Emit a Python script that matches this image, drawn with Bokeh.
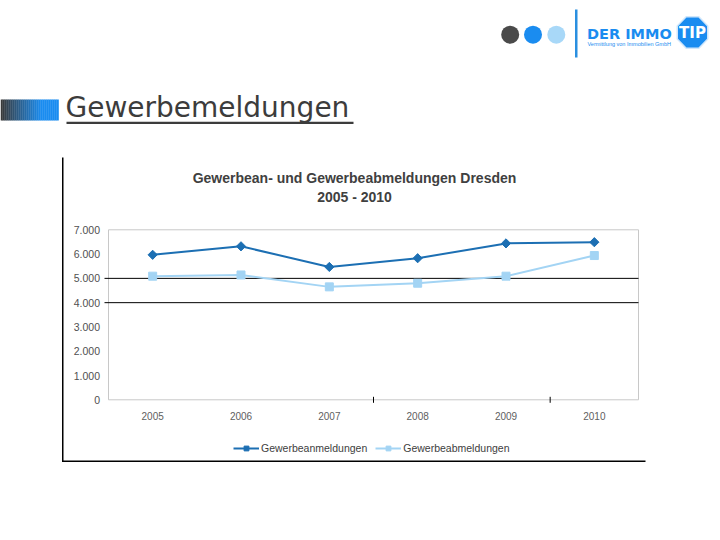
import numpy as np
from bokeh.plotting import figure
from bokeh.models import Range1d, Legend, LegendItem
from bokeh.core.properties import value
from bokeh.embed import file_html
from bokeh.resources import INLINE

# ---------------- data ----------------
years = ["2005", "2006", "2007", "2008", "2009", "2010"]
anmeldungen = [5970, 6320, 5470, 5830, 6440, 6490]
abmeldungen = [5090, 5140, 4650, 4800, 5090, 5940]
series_names = ["Gewerbeanmeldungen", "Gewerbeabmeldungen"]
y_ticks = [0, 1000, 2000, 3000, 4000, 5000, 6000, 7000]
y_tick_labels = ["0", "1.000", "2.000", "3.000", "4.000", "5.000", "6.000", "7.000"]
black_grid_values = [4000, 5000]
chart_title = ["Gewerbean- und Gewerbeabmeldungen Dresden", "2005 - 2010"]
slide_title = "Gewerbemeldungen"
logo_main = "DER IMMO"
logo_sub = "Vermittlung von Immobilien GmbH"
logo_badge = "TIP"

DARK = "#1C6FB3"
LIGHT = "#A3D4F4"
TXT = "#404040"
FONT = "Liberation Sans"
W, H = 720, 540

n = len(years)
x_idx = list(range(n))
ymax = y_ticks[-1]

# page-pixel canvas (y downwards)
p = figure(width=W, height=H, x_range=Range1d(0, W), y_range=Range1d(H, 0),
           output_backend="svg", toolbar_location=None,
           x_axis_location=None, y_axis_location=None, min_border=0)
p.grid.visible = False
p.outline_line_color = None
p.background_fill_color = "white"
p.border_fill_color = "white"

# chart plot area placement on the page
PX_L, PX_R = 108.0, 638.0
PY_0, PY_T = 399.3, 229.3
sx = n / (PX_R - PX_L)
sv = ymax / (PY_0 - PY_T)
p.extra_x_ranges = {"cx": Range1d(-0.5 - PX_L * sx, -0.5 + (W - PX_L) * sx)}
p.extra_y_ranges = {"vy": Range1d(-(H - PY_0) * sv, PY_0 * sv)}
C = dict(x_range_name="cx", y_range_name="vy")

# ---------- chart ----------
# plot-area border
p.quad(left=[-0.5], right=[n - 0.5], bottom=[0], top=[ymax], fill_color=None,
       line_color="#C8C8C8", line_width=1, **C)
# black gridlines
p.segment(x0=[-0.5 - 4 * sx] * len(black_grid_values), x1=[n - 0.5] * len(black_grid_values),
          y0=black_grid_values, y1=black_grid_values, line_color="black", line_width=1, **C)
# odd black tick marks between categories
bt = [x_idx[2] + 0.5, x_idx[4] + 0.5]
p.segment(x0=bt, x1=bt, y0=[-3 * sv] * 2, y1=[3 * sv] * 2, line_color="black", line_width=1, **C)

# tick labels
p.text(x=[-0.5] * len(y_ticks), y=y_ticks, text=y_tick_labels, x_offset=-8.5,
       text_align="right", text_baseline="middle", text_font=value(FONT),
       text_font_size="10.5px", text_color="#505050", **C)
p.text(x=x_idx, y=[0] * n, text=years, y_offset=12, text_align="center", text_baseline="top",
       text_font=value(FONT), text_font_size="10px", text_color="#606060", **C)

# series
l2 = p.line(x_idx, abmeldungen, line_color=LIGHT, line_width=2, **C)
s2 = p.scatter(x_idx, abmeldungen, marker="square", size=8, fill_color=LIGHT, line_color=LIGHT, **C)
l1 = p.line(x_idx, anmeldungen, line_color=DARK, line_width=2, **C)
s1 = p.scatter(x_idx, anmeldungen, marker="square", angle=np.pi / 4, size=6.5,
               fill_color=DARK, line_color=DARK, **C)

legend = Legend(items=[LegendItem(label=series_names[0], renderers=[l1, s1]),
                       LegendItem(label=series_names[1], renderers=[l2, s2])],
                orientation="horizontal", location=(233, H - 442 - 12), padding=0, spacing=8,
                glyph_width=26, glyph_height=12, label_height=12, label_standoff=2,
                label_text_font=FONT, label_text_font_size="10.5px", label_text_color=TXT,
                border_line_color=None, background_fill_alpha=0)
p.add_layout(legend)

# chart title
p.text(x=[354, 354], y=[177.8, 196.2], text=chart_title, text_align="center", text_baseline="middle",
       text_font=value(FONT), text_font_size="14px", text_font_style="bold", text_color=TXT)

# chart outer border (left and bottom)
p.quad(left=[61.5, 61.5], right=[63, 645], top=[157, 460], bottom=[461.5, 461.5],
       fill_color="black", line_color=None)

# ---------- slide decorations ----------
def mix(c1, c2, t):
    a = [int(c1[i:i + 2], 16) for i in (1, 3, 5)]
    b = [int(c2[i:i + 2], 16) for i in (1, 3, 5)]
    return "#%02x%02x%02x" % tuple(int(round(a[k] + (b[k] - a[k]) * t)) for k in range(3))

gx = list(range(0, 57, 2))
p.quad(left=gx, right=[g + 2.3 for g in gx], top=[99] * len(gx), bottom=[120] * len(gx),
       fill_color=[mix("#3a3a3a", "#1a8cf0", min(1.0, g / 40.0)) for g in gx], line_color=None)

p.text(x=[65], y=[106.8], text=[slide_title], text_baseline="middle",
       text_font=value("DejaVu Sans"), text_font_size="28px", text_color="#3c3c3c")
p.quad(left=[66], right=[353], top=[121.2], bottom=[123.4], fill_color="#3c3c3c", line_color=None)

# logo
p.scatter(x=[509.7, 532.5, 555.8], y=[34.2, 34.2, 34.2], size=18, marker="circle",
          fill_color=["#4a4a4a", "#1a8cf0", "#a8d8f8"], line_color=None)
p.quad(left=[574.5], right=[577], top=[9], bottom=[57], fill_color="#2a8fe0", line_color=None)
ang = np.pi / 8 + np.arange(8) * np.pi / 4
p.patch(x=list(692 + 16.5 * np.cos(ang)), y=list(32 + 17 * np.sin(ang)),
        fill_color="#1a8cf0", line_color="#cfe6fb", line_width=1.5)
p.text(x=[586.5], y=[33.8], text=[logo_main], text_baseline="middle",
       text_font=value("DejaVu Sans"), text_font_size="14.5px", text_font_style="bold",
       text_color="#1a8cf0")
p.text(x=[587], y=[43.5], text=[logo_sub], text_baseline="middle",
       text_font=value(FONT), text_font_size="5.5px", text_color="#1a8cf0")
p.text(x=[692], y=[32], text=[logo_badge], text_align="center", text_baseline="middle",
       text_font=value("DejaVu Sans"), text_font_size="15px", text_font_style="bold",
       text_color="white")

open("out.html", "w").write(file_html(p, INLINE))
